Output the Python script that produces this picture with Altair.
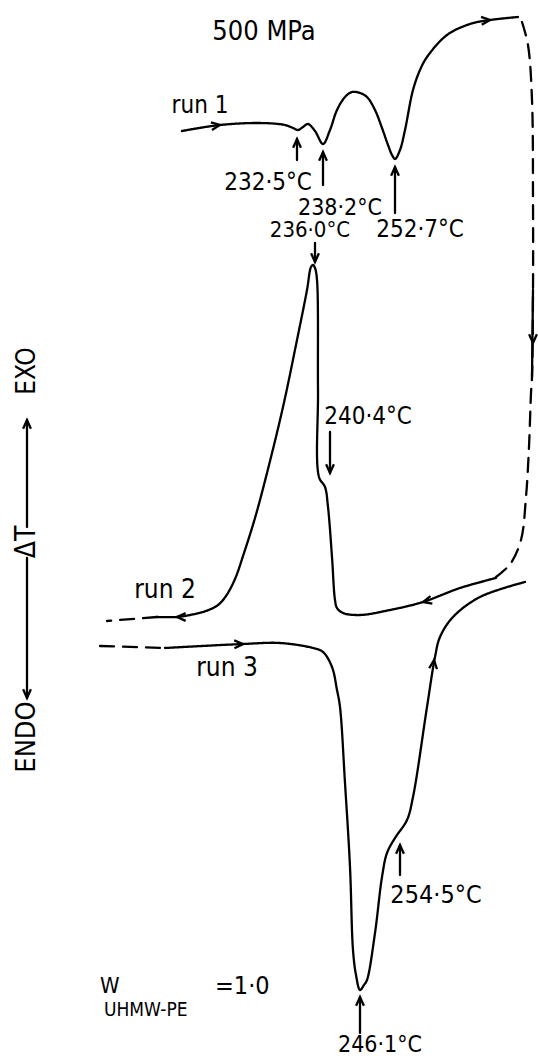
import altair as alt
import pandas as pd

# ---------------- curve data (pixel-like units) -------------
run1_x = [182, 220, 260, 285, 293, 298, 303, 308, 315, 323, 330, 337, 345, 352, 360, 367, 375, 382, 388, 392, 395, 400, 405, 413, 420, 427, 447, 470, 490, 518]
run1_y = [131, 125, 123, 125, 128, 130, 127, 124, 131, 144, 130, 110, 97, 92, 93, 97, 110, 128, 145, 155, 159, 150, 130, 90, 70, 57, 35, 24, 20, 17]

link_x = [522, 528, 532, 533, 533, 532, 531, 529, 526, 521, 511, 501, 496]
link_y = [22, 45, 100, 200, 290, 377, 393, 447, 497, 540, 563, 573, 577]
link_solid_x = [533, 532]
link_solid_y = [290, 377]

run2_x = [496, 460, 423, 390, 360, 343, 337, 335, 332, 328, 325, 319, 318, 317, 315, 313, 311, 307, 297, 283, 267, 255, 244, 235, 226, 218, 206, 190, 177, 157]
run2_y = [578, 588, 602, 610, 615, 613, 608, 600, 557, 507, 487, 477, 390, 280, 268, 265, 267, 290, 340, 407, 473, 518, 553, 579, 596, 605, 611, 615, 617, 617]
run2_dash_x = [157, 107]
run2_dash_y = [617, 621]

run3_dash_x = [100, 165]
run3_dash_y = [646, 648]
run3_x = [165, 243, 280, 313, 323, 332, 337, 340, 345, 350, 353, 356, 360, 364, 367, 375, 382, 387, 395, 407, 413, 427, 435, 440, 453, 480, 525]
run3_y = [648, 644, 643, 648, 652, 667, 690, 707, 783, 867, 950, 975, 990, 985, 980, 933, 877, 853, 838, 820, 797, 707, 657, 637, 617, 597, 582]

# annotation arrows: x, tail y, tip y
ann_x = [297, 323, 395, 315, 330, 400, 360, 27, 27]
ann_tail = [160, 185, 213, 243, 432, 875, 1033, 527, 558]
ann_tip = [139, 152, 167, 262, 473, 845, 997, 420, 698]

# arrowheads on curves: x, y, direction (deg, clockwise from right)
head_x = [220, 490, 533, 423, 177, 243, 434]
head_y = [125, 20, 343, 602, 617, 644, 660]
head_angle = [352, 355, 90, 166, 180, 358, 276]

# centred text labels
label_text = ["500 MPa", "run 1", "232·5°C", "238·2°C", "236·0°C", "252·7°C", "240·4°C",
              "run 2", "run 3", "254·5°C", "246·1°C", "EXO", "ΔT", "ENDO"]
label_x = [264, 200, 268, 340, 310, 420, 368, 165, 227, 436, 380, 27, 27, 27]
label_y = [32, 106, 183, 208, 230, 230, 417, 590, 668, 895, 1045, 371, 542, 737]
label_size = [27, 24, 24, 23, 22, 24, 24, 26, 26, 25, 23, 26, 28, 27]
label_angle = [0, 0, 0, 0, 0, 0, 0, 0, 0, 0, 0, 270, 270, 270]

# left-aligned weight-fraction label pieces
wlab_text = ["W", "UHMW-PE", "=1·0"]
wlab_x = [100, 104, 215]
wlab_y = [986, 1010, 986]
wlab_size = [22, 19, 25]

# ---------------- build tables ----------------
rows = []
def add_path(name, xs, ys, style):
    for i, (x, y) in enumerate(zip(xs, ys)):
        rows.append(dict(seg=name, ord=i, x=x, y=y, style=style))

add_path("run1", run1_x, run1_y, "solid")
add_path("link", link_x, link_y, "dash")
add_path("link_solid", link_solid_x, link_solid_y, "solid")
add_path("run2", run2_x, run2_y, "solid")
add_path("run2_dash", run2_dash_x, run2_dash_y, "dash")
add_path("run3_dash", run3_dash_x, run3_dash_y, "dash")
add_path("run3", run3_x, run3_y, "solid")
for k, (ax, t0, t1) in enumerate(zip(ann_x, ann_tail, ann_tip)):
    add_path(f"ann{k}", [ax, ax], [t0, t1], "solid")
lines = pd.DataFrame(rows)

heads = pd.DataFrame(dict(x=head_x + ann_x, y=head_y + ann_tip,
                          angle=head_angle + [270 if tip < tail else 90 for tip, tail in zip(ann_tip, ann_tail)]))

labels = pd.DataFrame(dict(text=label_text, x=label_x, y=label_y, size=label_size, angle=label_angle))
wlabels = pd.DataFrame(dict(text=wlab_text, x=wlab_x, y=wlab_y, size=wlab_size))

X = alt.X("x:Q", scale=alt.Scale(domain=[0, 538], nice=False, zero=False), axis=None)
Y = alt.Y("y:Q", scale=alt.Scale(domain=[0, 1058], nice=False, zero=False, reverse=True), axis=None)

FONT = "DejaVu Sans Condensed, DejaVu Sans"

line_layer = alt.Chart(lines).mark_line(
    color="black", strokeWidth=2.3, strokeCap="round", strokeJoin="round", interpolate="catmull-rom"
).encode(
    x=X, y=Y, detail="seg:N", order="ord:Q",
    strokeDash=alt.StrokeDash("style:N", scale=alt.Scale(domain=["solid", "dash"], range=[[1, 0], [14, 9]]), legend=None),
)

head_layer = alt.Chart(heads).mark_point(
    shape="M -1 -0.45 L 0 0 L -1 0.45", filled=False, color="black", strokeWidth=2.3, size=300, opacity=1
).encode(x=X, y=Y, angle=alt.Angle("angle:Q", scale=None))

text_layer = alt.Chart(labels).mark_text(
    font=FONT, color="black", align="center", baseline="middle"
).encode(x=X, y=Y, text="text:N", size=alt.Size("size:Q", scale=None), angle=alt.Angle("angle:Q", scale=None))

wtext_layer = alt.Chart(wlabels).mark_text(
    font=FONT, color="black", align="left", baseline="middle"
).encode(x=X, y=Y, text="text:N", size=alt.Size("size:Q", scale=None))

chart = alt.layer(line_layer, head_layer, text_layer, wtext_layer).properties(
    width=538, height=1058, padding=0, autosize="none", background="white"
).configure_view(stroke=None)

chart.save("out.html", embed_options={"renderer": "svg", "actions": False})
